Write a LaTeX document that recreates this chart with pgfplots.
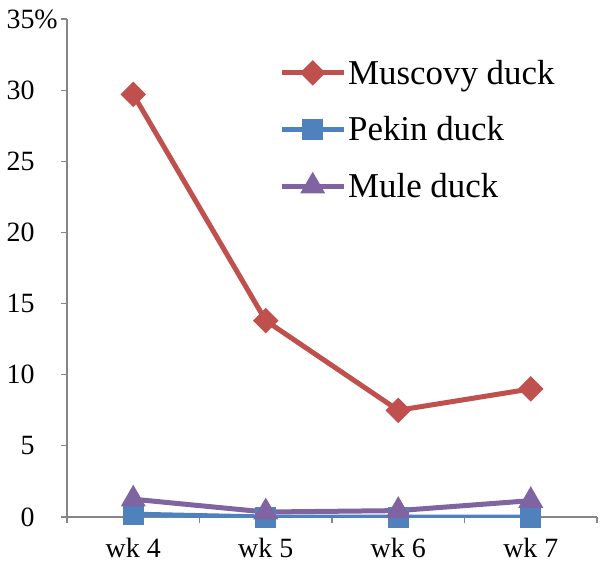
\documentclass[border=0pt]{standalone}
\usepackage{pgfplots}
\pgfplotsset{compat=1.18}
\usepackage{fontspec}
\setmainfont{Liberation Serif}
\definecolor{cred}{HTML}{C0504D}
\definecolor{cblue}{HTML}{4F81BD}
\definecolor{cpurple}{HTML}{8064A2}
\definecolor{caxis}{HTML}{868686}
\begin{document}
\begin{tikzpicture}
\begin{axis}[
  name=ax,
  scale only axis,
  width=530bp, height=498bp,
  xmin=-0.5, xmax=3.5, ymin=0, ymax=35,
  axis x line*=bottom, axis y line*=left,
  axis line style={caxis, line width=1.2bp},
  every axis plot/.append style={line width=5bp},
  xtick={0,1,2,3},
  xticklabels={wk 4,wk 5,wk 6,wk 7},
  minor xtick={-0.5,0.5,1.5,2.5,3.5},
  ytick={0,5,...,35},
  yticklabels={0,5,10,15,20,25,30,35\rlap{\%}},
  tick align=outside,
  major tick length=6bp, minor tick length=6bp,
  x tick style={draw=none},
  minor x tick style={draw=caxis, line width=1.2bp},
  y tick style={draw=caxis, line width=1.2bp},
  tick label style={font=\fontsize{28}{33}\selectfont},
  yticklabel style={xshift=-23bp},
  xticklabel style={yshift=-12bp},
  legend style={draw=none, fill=none, at={(rel axis cs:0.40,0.922)}, anchor=north west,
    font=\fontsize{35}{42}\selectfont, row sep=27bp, inner sep=0pt},
  legend cell align=left,
  legend image code/.code={\draw[mark repeat=2,mark phase=2] plot coordinates {(0bp,0bp)(31bp,0bp)(62bp,0bp)};},
]
\addplot[cred, mark=square*, mark size=6.5bp, mark options={rotate=45, solid}] coordinates {(0,29.7)(1,13.8)(2,7.5)(3,9.0)};
\addlegendentry{Muscovy duck}
\addplot[cblue, mark=square*, mark size=8bp, mark options={solid}] coordinates {(0,0.2)(1,0.0)(2,0.0)(3,0.0)};
\addlegendentry{Pekin duck}
\addplot[cpurple, mark=triangle*, mark size=9.5bp, mark options={solid}] coordinates {(0,1.25)(1,0.35)(2,0.45)(3,1.15)};
\addlegendentry{Mule duck}
\end{axis}
\pgfresetboundingbox
\path ([xshift=-67bp,yshift=-50bp]ax.south west) rectangle ([xshift=8bp,yshift=19bp]ax.north east);
\end{tikzpicture}
\end{document}
